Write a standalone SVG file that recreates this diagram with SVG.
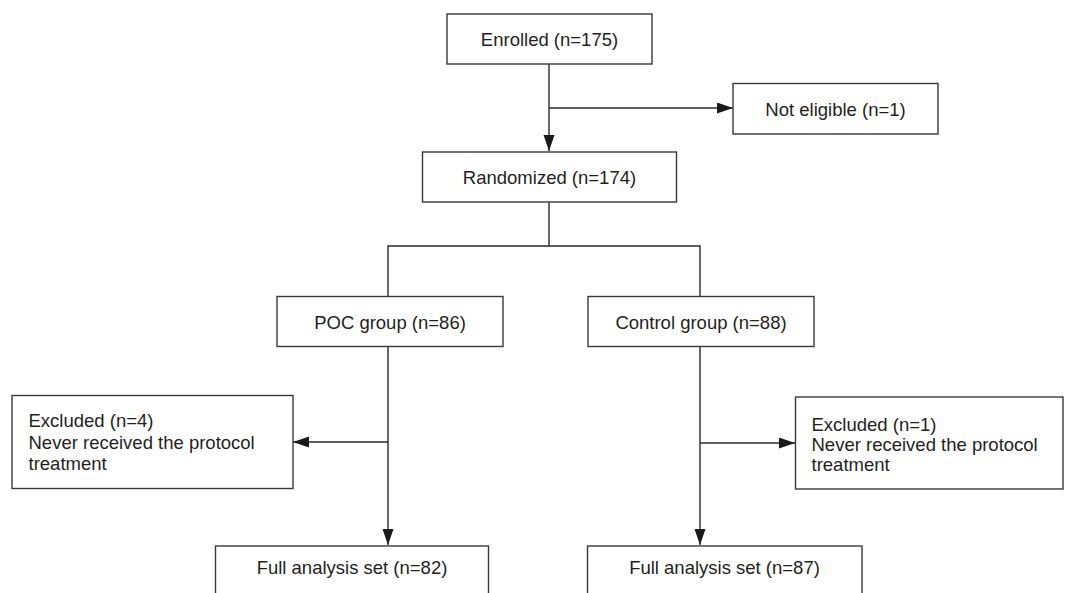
<svg xmlns="http://www.w3.org/2000/svg" width="1065" height="593" viewBox="0 0 1065 593">
<style>
.box{fill:#fff;stroke:#3a3a3a;stroke-width:1.4}
.t{font-family:"Liberation Sans",Arial,sans-serif;font-size:18.5px;fill:#231f20}
.c{text-anchor:middle}
.ln{fill:none;stroke:#2a2a2a;stroke-width:1.4}
</style>
<defs>
<marker id="arr" markerUnits="userSpaceOnUse" markerWidth="17" markerHeight="12" refX="16" refY="5.5" orient="auto">
<path d="M0,0 L16,5.5 L0,11 z" fill="#1a1a1a"/>
</marker>
</defs>
<rect width="1065" height="593" fill="#fff"/>
<g id="connectors">
<line class="ln" x1="549" y1="64" x2="549" y2="151" marker-end="url(#arr)"/>
<line class="ln" x1="549" y1="108" x2="733" y2="108" marker-end="url(#arr)"/>
<polyline class="ln" points="549,202 549,246"/>
<polyline class="ln" points="388,296 388,246 700,246 700,296"/>
<line class="ln" x1="388" y1="347" x2="388" y2="545" marker-end="url(#arr)"/>
<line class="ln" x1="388" y1="442" x2="293" y2="442" marker-end="url(#arr)"/>
<line class="ln" x1="700" y1="347" x2="700" y2="545" marker-end="url(#arr)"/>
<line class="ln" x1="700" y1="443" x2="795" y2="443" marker-end="url(#arr)"/>
</g>
<g id="enrolled">
<rect class="box" x="447" y="14" width="205" height="50"/>
<text class="t c" x="549.5" y="45.5">Enrolled (n=175)</text>
</g>
<g id="not-eligible">
<rect class="box" x="733" y="83.5" width="205" height="50.5"/>
<text class="t c" x="835.5" y="115.5">Not eligible (n=1)</text>
</g>
<g id="randomized">
<rect class="box" x="422.5" y="152" width="254" height="50"/>
<text class="t c" x="549.5" y="184">Randomized (n=174)</text>
</g>
<g id="poc-group">
<rect class="box" x="277" y="296.5" width="226" height="50"/>
<text class="t c" x="390" y="328.5">POC group (n=86)</text>
</g>
<g id="control-group">
<rect class="box" x="588" y="296.5" width="226" height="50"/>
<text class="t c" x="701" y="328.5">Control group (n=88)</text>
</g>
<g id="excluded-poc">
<rect class="box" x="12" y="395.5" width="281" height="93"/>
<text class="t" x="28.5" y="427">Excluded (n=4)</text>
<text class="t" x="28.5" y="448.5">Never received the protocol</text>
<text class="t" x="28.5" y="469.5">treatment</text>
</g>
<g id="excluded-control">
<rect class="box" x="795.5" y="397" width="267.5" height="92"/>
<text class="t" x="811.5" y="431">Excluded (n=1)</text>
<text class="t" x="811.5" y="451">Never received the protocol</text>
<text class="t" x="811.5" y="471">treatment</text>
</g>
<g id="fas-poc">
<rect class="box" x="215.5" y="546" width="273" height="60"/>
<text class="t c" x="352" y="574">Full analysis set (n=82)</text>
</g>
<g id="fas-control">
<rect class="box" x="587.5" y="546" width="274.5" height="60"/>
<text class="t c" x="724.5" y="574">Full analysis set (n=87)</text>
</g>
</svg>
